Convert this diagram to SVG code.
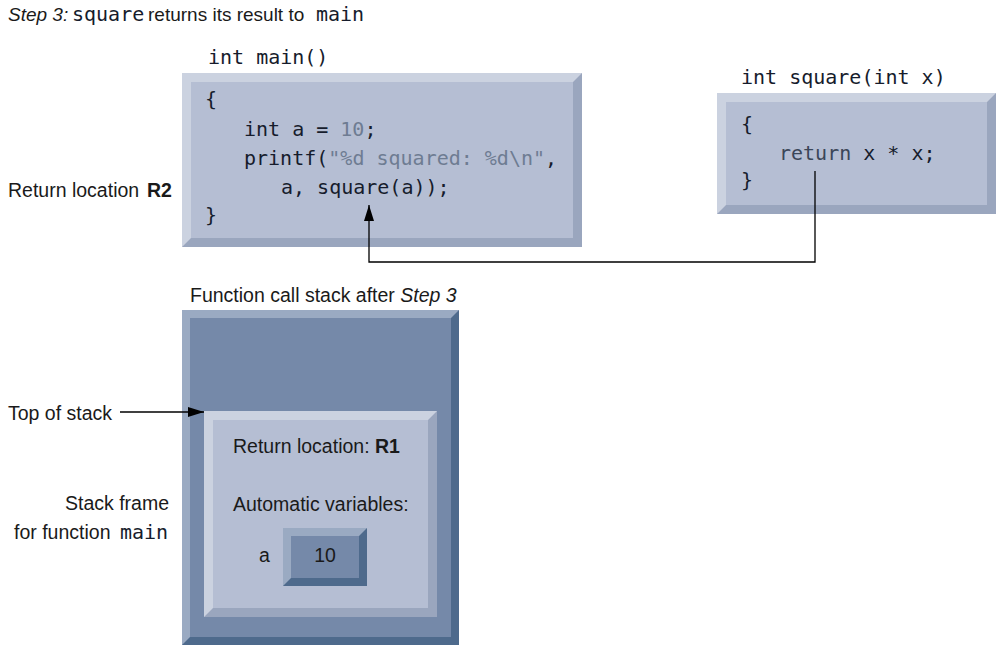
<svg xmlns="http://www.w3.org/2000/svg" width="1005" height="657" viewBox="0 0 1005 657">
<defs>
<style>
.sans{font-family:"Liberation Sans",Arial,sans-serif;font-size:19.5px;fill:#1a1a1a}
.title{font-size:19px}
.mono{font-family:"DejaVu Sans Mono","Liberation Mono",monospace;font-size:20px;fill:#161c2c}
.gray{fill:#6e7c92}
.ret{fill:#3b4658}
.it{font-style:italic}
.b{font-weight:bold}
.lt-dark{fill:#9aa6be}
.lt-light{fill:#cbd2e0}
.lt-face{fill:#b5bed3}
.dk-dark{fill:#4e6a8c}
.dk-light{fill:#9aaac2}
.dk-face{fill:#7589a9}
.conn{fill:none;stroke:#000;stroke-width:1.3}
</style>
<marker id="ah" viewBox="0 0 16 10" refX="16" refY="5" markerWidth="16" markerHeight="10" markerUnits="userSpaceOnUse" orient="auto">
<path d="M0,0 L16,5 L0,10 Z" fill="#000"/>
</marker>
</defs>
<rect width="1005" height="657" fill="#fff"/>

<text class="sans title" y="21"><tspan x="8" class="it">Step 3:</tspan><tspan x="72" class="mono">square</tspan><tspan x="148">returns its result to</tspan><tspan x="316" class="mono">main</tspan></text>

<g id="main-box">
<text class="mono" x="208" y="64">int main()</text>
<rect class="lt-dark" x="182" y="73" width="400" height="174"/>
<polygon class="lt-light" points="182,73 582,73 573,82 191,82 191,238 182,247"/>
<rect class="lt-face" x="191" y="82" width="382" height="156"/>
<text class="mono" xml:space="preserve"><tspan x="205" y="106">{</tspan><tspan x="244" y="136">int a = <tspan class="gray">10</tspan>;</tspan><tspan x="244" y="165">printf(<tspan class="gray">"%d squared: %d\n"</tspan>,</tspan><tspan x="281" y="194">a, square(a));</tspan><tspan x="205" y="222">}</tspan></text>
</g>

<g id="square-box">
<text class="mono" x="741" y="84">int square(int x)</text>
<rect class="lt-dark" x="717" y="93" width="279" height="121"/>
<polygon class="lt-light" points="717,93 996,93 987,102 726,102 726,205 717,214"/>
<rect class="lt-face" x="726" y="102" width="261" height="103"/>
<text class="mono" xml:space="preserve"><tspan x="741" y="131">{</tspan><tspan x="779" y="160"><tspan class="ret">return</tspan> x * x;</tspan><tspan x="741" y="187">}</tspan></text>
</g>

<g id="label-r2">
<text class="sans" y="197"><tspan x="8">Return location</tspan><tspan x="147" class="b">R2</tspan></text>
</g>

<g id="stack">
<text class="sans" x="190" y="302">Function call stack after <tspan class="it">Step 3</tspan></text>
<rect class="dk-dark" x="182" y="310" width="277" height="335"/>
<polygon class="dk-light" points="182,310 459,310 451,318 190,318 190,637 182,645"/>
<rect class="dk-face" x="190" y="318" width="261" height="319"/>
</g>

<g id="stack-frame">
<rect class="lt-dark" x="204" y="411" width="233" height="206"/>
<polygon class="lt-light" points="204,411 437,411 428,420 213,420 213,608 204,617"/>
<rect class="lt-face" x="213" y="420" width="215" height="188"/>
<text class="sans" x="233" y="453">Return location: <tspan class="b">R1</tspan></text>
<text class="sans" x="233" y="511">Automatic variables:</text>
<text class="sans" x="259" y="562">a</text>
</g>

<g id="var-a">
<rect class="dk-dark" x="283" y="528" width="84" height="58"/>
<polygon class="dk-light" points="283,528 367,528 359,536 291,536 291,578 283,586"/>
<rect class="dk-face" x="291" y="536" width="68" height="42"/>
<text class="sans" x="325" y="562" text-anchor="middle">10</text>
</g>

<g id="labels">
<text class="sans" x="8" y="420">Top of stack</text>
<text class="sans" x="169" y="510" text-anchor="end">Stack frame</text>
<text class="sans" y="539"><tspan x="14">for function</tspan><tspan x="120" class="mono">main</tspan></text>
</g>

<g id="connectors">
<polyline class="conn" points="815,171 815,262 369,262 369,205" marker-end="url(#ah)"/>
<line class="conn" x1="120" y1="412" x2="204" y2="412" marker-end="url(#ah)"/>
</g>
</svg>
